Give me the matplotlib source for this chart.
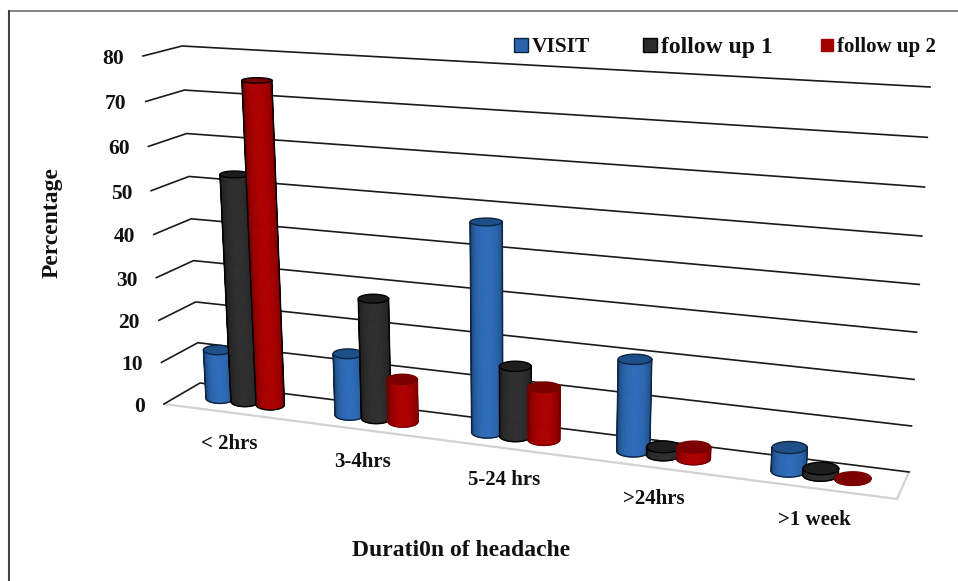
import numpy as np
from matplotlib import pyplot as plt
from matplotlib.colors import to_rgb
from matplotlib.patches import Rectangle

categories = ['< 2hrs', '3-4hrs', '5-24 hrs', '>24hrs', '>1 week']
series_names = ['VISIT', 'follow up 1', 'follow up 2']
visit = [11.7, 14.4, 47.3, 20.4, 5.1]
follow_up_1 = [53.3, 27.8, 15.9, 1.8, 1.4]
follow_up_2 = [74.7, 9.9, 11.9, 2.6, 0.2]
y_ticks = [0, 10, 20, 30, 40, 50, 60, 70, 80]

colors = ['#2a64ab', '#2b2b2b', '#a00000']
top_colors = ['#1f4f88', '#1d1d1d', '#7c0000']
edge_colors = ['#0d2440', '#000000', '#7a0000']

plt.rcParams['font.family'] = ['Liberation Serif', 'DejaVu Serif']
plt.rcParams['font.weight'] = 'bold'

# box corners in pixels: (u, depth, height)
corners = {
    (0, 0, 0): (164, 404), (0, 1, 0): (200, 383),
    (0, 0, 1): (143, 56), (0, 1, 1): (182, 46),
    (1, 0, 0): (897, 499), (1, 1, 0): (909, 472),
    (1, 0, 1): (921, 99), (1, 1, 1): (930, 87),
}

RADIUS = 0.022
RADIUS_D = 0.24
SPACING = 0.0395


def warp(t, c):
    return t*c/(1 + (c - 1)*t)


def project(u, d, value):
    # perspective along u and height, then trilinear between the box corners
    uu = warp(u, 0.86)
    t = warp(value/y_ticks[-1], 0.95)
    x, y = 0, 0
    for (a, b, e), (px, py) in corners.items():
        w = (uu if a else 1 - uu)*(d if b else 1 - d)*(t if e else 1 - t)
        x += w*px
        y += w*py
    return x, y


def ellipse(u, value):
    cx, cy = project(u, 0.5, value)
    hw = (project(u + RADIUS, 0.5, value)[0] - project(u - RADIUS, 0.5, value)[0])/2
    hh = (project(u, 0.5 - RADIUS_D, value)[1] - project(u, 0.5 + RADIUS_D, value)[1])/2
    return cx, cy, hw, hh


def cylinder(ax, u, value, color, top_color, edge):
    bx, by, bw, bh = ellipse(u, 0)
    tx, ty, tw, th = ellipse(u, value)
    ang = np.linspace(0, np.pi, 41)
    rgb = np.array(to_rgb(color))
    for a0, a1 in zip(ang[:-1], ang[1:]):
        shade = 0.5 + 0.58*np.sin((a0 + a1)/2)**0.7
        c = np.clip(rgb*shade, 0, 1)
        xs = [bx + bw*np.cos(a0), bx + bw*np.cos(a1), tx + tw*np.cos(a1), tx + tw*np.cos(a0)]
        ys = [by + bh*np.sin(a0), by + bh*np.sin(a1), ty + th*np.sin(a1), ty + th*np.sin(a0)]
        ax.fill(xs, ys, facecolor=c, edgecolor=c, lw=0.6, zorder=3)
    full = np.linspace(0, 2*np.pi, 73)
    ax.fill(tx + tw*np.cos(full), ty + th*np.sin(full), color=top_color, lw=0, zorder=3)
    # outline: top rim, then the two sides and the bottom arc
    ax.plot(tx + tw*np.cos(full), ty + th*np.sin(full), color=edge, lw=1.0, zorder=3)
    sx = np.r_[tx + tw, bx + bw*np.cos(ang), tx - tw]
    sy = np.r_[ty, by + bh*np.sin(ang), ty]
    ax.plot(sx, sy, color=edge, lw=1.0, zorder=3)


fig = plt.figure(figsize=(9.58, 5.81), dpi=100)
ax = fig.add_axes([0, 0, 1, 1])
ax.set_xlim(0, 958)
ax.set_ylim(581, 0)
ax.axis('off')

# outer frame, only top and left show in the picture
ax.plot([8.2, 8.2], [12, 581], color='#d8d8d8', lw=1.0, zorder=1)
ax.plot([9.5, 958], [11, 11], color='#6e6e6e', lw=1.2, zorder=1)
ax.plot([9.5, 9.5], [11, 581], color='#222222', lw=1.2, zorder=2)

# floor
floor = [project(0, 0, 0), project(1, 0, 0), project(1, 1, 0)]
ax.plot(*zip(*floor), color='#d2d2d2', lw=1.6, zorder=1)

# gridlines with tick labels
for v in y_ticks:
    pts = [project(0, 0, v), project(0, 1, v), project(1, 1, v)]
    ax.plot(*zip(*pts), color='#1a1a1a', lw=1.2, zorder=2)
    ax.text(pts[0][0] - 19, pts[0][1] + 3, str(v), ha='right', va='center', fontsize=15.5, color='#111111')

rows = [visit, follow_up_1, follow_up_2]
for i in range(len(categories)):
    u0 = (i + 0.5)/len(categories)
    for s, row in enumerate(rows):
        edge = edge_colors[s]
        if s == 2 and row[i] > 50:
            edge = '#000000'
        cylinder(ax, u0 + (s - 1)*SPACING, row[i], colors[s], top_colors[s], edge)
    lx, ly = project(u0, 0, 0)
    ax.text(lx + 1, ly + 32, categories[i], ha='center', va='center', fontsize=15, color='#111111')

ax.text(52, 223, 'Percentage', rotation=90, ha='center', va='center', fontsize=17, color='#111111')
ax.text(461, 550, 'Durati0n of headache', ha='center', va='center', fontsize=17, color='#111111')

# legend
legend_x = [514, 643, 821]
legend_size = [14, 14, 12]
legend_font = [15.5, 17, 15]
for name, c, ec, x, sz, fs in zip(series_names, colors, edge_colors[:2] + ['#a00000'], legend_x, legend_size, legend_font):
    ax.add_patch(Rectangle((x, 45 - sz/2), sz, sz, fc=c, ec=ec, lw=1.0, zorder=4))
    ax.text(x + sz + 4, 47, name, ha='left', va='center', fontsize=fs, color='#111111')

fig.savefig('out.png', dpi=100)
